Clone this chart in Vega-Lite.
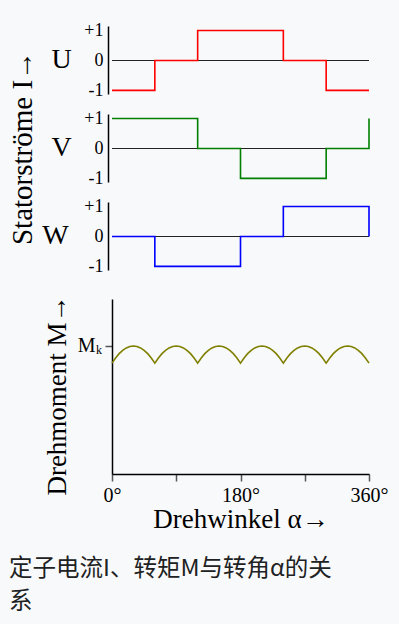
{
  "$schema": "https://vega.github.io/schema/vega-lite/v6.json",
  "background": "#f8f9fa",
  "padding": {"left": 8, "top": 21, "right": 11, "bottom": 10},
  "config": {
    "view": {"stroke": null},
    "font": "Liberation Serif",
    "axis": {"grid": false, "domainColor": "#000", "domainWidth": 1.5, "labelColor": "#000", "titleColor": "#000", "labelFont": "Liberation Serif", "titleFont": "Liberation Serif", "titleFontWeight": "normal"}
  },
  "title": {"text": ["定子电流I、转矩M与转角α的关", "系"], "orient": "bottom", "anchor": "start", "font": "Noto Sans CJK SC", "fontSize": 23.5, "fontWeight": "normal", "color": "#202122", "lineHeight": 33, "offset": 25},
  "spacing": 18,
  "vconcat": [
    {
      "data": {"values": [
        {"phase": "U", "a": 0, "i": -1}, {"phase": "U", "a": 60, "i": 0}, {"phase": "U", "a": 120, "i": 1}, {"phase": "U", "a": 240, "i": 0}, {"phase": "U", "a": 300, "i": -1}, {"phase": "U", "a": 360, "i": -1},
        {"phase": "V", "a": 0, "i": 1}, {"phase": "V", "a": 120, "i": 0}, {"phase": "V", "a": 180, "i": -1}, {"phase": "V", "a": 300, "i": 0}, {"phase": "V", "a": 360, "i": 1},
        {"phase": "W", "a": 0, "i": 0}, {"phase": "W", "a": 60, "i": -1}, {"phase": "W", "a": 180, "i": 0}, {"phase": "W", "a": 240, "i": 1}, {"phase": "W", "a": 360, "i": 0}
      ]},
      "facet": {"row": {"field": "phase", "type": "nominal", "sort": ["U", "V", "W"], "title": "Statorströme I→",
        "header": {"labelAngle": 0, "labelOrient": "left", "labelAlign": "center", "labelFont": "Liberation Serif", "labelFontSize": 28, "labelColor": "black", "labelPadding": 2, "titleOrient": "left", "titleFont": "Liberation Serif", "titleFontSize": 29, "titleFontWeight": "normal", "titleColor": "black", "titlePadding": -6}}},
      "spacing": 20,
      "spec": {
        "width": 257,
        "height": 68,
        "layer": [
          {"mark": {"type": "rule", "color": "#222", "strokeWidth": 1.1},
           "encoding": {"y": {"datum": 0, "type": "quantitative", "scale": {"domain": [-1.12, 1.15]}, "axis": {"values": [-1, 0, 1], "labelExpr": "datum.value == 1 ? '+1' : (datum.value == 0 ? '0' : '-1')", "labelOverlap": false, "labelFlush": false, "ticks": false, "labelFontSize": 18, "labelPadding": 5, "title": null}}}},
          {"mark": {"type": "line", "interpolate": "step-after", "strokeWidth": 1.6},
           "encoding": {
             "x": {"field": "a", "type": "quantitative", "scale": {"domain": [0, 360]}, "axis": null},
             "y": {"field": "i", "type": "quantitative", "scale": {"domain": [-1.12, 1.15]}, "axis": {"values": [-1, 0, 1], "labelExpr": "datum.value == 1 ? '+1' : (datum.value == 0 ? '0' : '-1')", "labelOverlap": false, "labelFlush": false, "ticks": false, "labelFontSize": 18, "labelPadding": 5, "title": null}},
             "color": {"field": "phase", "type": "nominal", "scale": {"domain": ["U", "V", "W"], "range": ["#ff0000", "#008000", "#0000ff"]}, "legend": null}
           }}
        ]
      }
    },
    {
      "width": 257,
      "height": 175,
      "layer": [
        {
          "data": {"values": [
            {"a": 0, "m": 0.866}, {"a": 5, "m": 0.906}, {"a": 10, "m": 0.94}, {"a": 15, "m": 0.966}, {"a": 20, "m": 0.985}, {"a": 25, "m": 0.996}, {"a": 30, "m": 1}, {"a": 35, "m": 0.996}, {"a": 40, "m": 0.985}, {"a": 45, "m": 0.966}, {"a": 50, "m": 0.94}, {"a": 55, "m": 0.906},
            {"a": 60, "m": 0.866}, {"a": 65, "m": 0.906}, {"a": 70, "m": 0.94}, {"a": 75, "m": 0.966}, {"a": 80, "m": 0.985}, {"a": 85, "m": 0.996}, {"a": 90, "m": 1}, {"a": 95, "m": 0.996}, {"a": 100, "m": 0.985}, {"a": 105, "m": 0.966}, {"a": 110, "m": 0.94}, {"a": 115, "m": 0.906},
            {"a": 120, "m": 0.866}, {"a": 125, "m": 0.906}, {"a": 130, "m": 0.94}, {"a": 135, "m": 0.966}, {"a": 140, "m": 0.985}, {"a": 145, "m": 0.996}, {"a": 150, "m": 1}, {"a": 155, "m": 0.996}, {"a": 160, "m": 0.985}, {"a": 165, "m": 0.966}, {"a": 170, "m": 0.94}, {"a": 175, "m": 0.906},
            {"a": 180, "m": 0.866}, {"a": 185, "m": 0.906}, {"a": 190, "m": 0.94}, {"a": 195, "m": 0.966}, {"a": 200, "m": 0.985}, {"a": 205, "m": 0.996}, {"a": 210, "m": 1}, {"a": 215, "m": 0.996}, {"a": 220, "m": 0.985}, {"a": 225, "m": 0.966}, {"a": 230, "m": 0.94}, {"a": 235, "m": 0.906},
            {"a": 240, "m": 0.866}, {"a": 245, "m": 0.906}, {"a": 250, "m": 0.94}, {"a": 255, "m": 0.966}, {"a": 260, "m": 0.985}, {"a": 265, "m": 0.996}, {"a": 270, "m": 1}, {"a": 275, "m": 0.996}, {"a": 280, "m": 0.985}, {"a": 285, "m": 0.966}, {"a": 290, "m": 0.94}, {"a": 295, "m": 0.906},
            {"a": 300, "m": 0.866}, {"a": 305, "m": 0.906}, {"a": 310, "m": 0.94}, {"a": 315, "m": 0.966}, {"a": 320, "m": 0.985}, {"a": 325, "m": 0.996}, {"a": 330, "m": 1}, {"a": 335, "m": 0.996}, {"a": 340, "m": 0.985}, {"a": 345, "m": 0.966}, {"a": 350, "m": 0.94}, {"a": 355, "m": 0.906},
            {"a": 360, "m": 0.866}
          ]},
          "mark": {"type": "line", "color": "#808000", "strokeWidth": 1.6},
          "encoding": {
            "x": {"field": "a", "type": "quantitative", "scale": {"domain": [0, 360], "nice": false}, "axis": {"values": [0, 90, 180, 270, 360], "labelExpr": "datum.value % 180 == 0 ? datum.value + '°' : ''", "labelOverlap": false, "labelFlush": false, "tickSize": 7, "tickColor": "#555", "tickWidth": 1.5, "labelFontSize": 20, "labelPadding": 4, "title": "Drehwinkel α→", "titleFontSize": 27, "titlePadding": 1}},
            "y": {"field": "m", "type": "quantitative", "scale": {"domain": [0, 1.367], "nice": false}, "axis": {"values": [1], "labelExpr": "'M'", "tickSize": 7, "tickColor": "#555", "tickWidth": 1.5, "labelFontSize": 20, "labelPadding": 10, "title": "Drehmoment M→", "titleFontSize": 27, "titlePadding": 6, "titleY": 96}}
          }
        },
        {
          "data": {"values": [{"a": 0, "m": 1, "t": "k"}]},
          "mark": {"type": "text", "fontSize": 12, "align": "left", "baseline": "alphabetic", "dx": -16, "dy": 8, "font": "Liberation Serif", "color": "#000"},
          "encoding": {
            "x": {"field": "a", "type": "quantitative", "scale": {"domain": [0, 360], "nice": false}},
            "y": {"field": "m", "type": "quantitative", "scale": {"domain": [0, 1.367], "nice": false}},
            "text": {"field": "t"}
          }
        }
      ]
    }
  ]
}
